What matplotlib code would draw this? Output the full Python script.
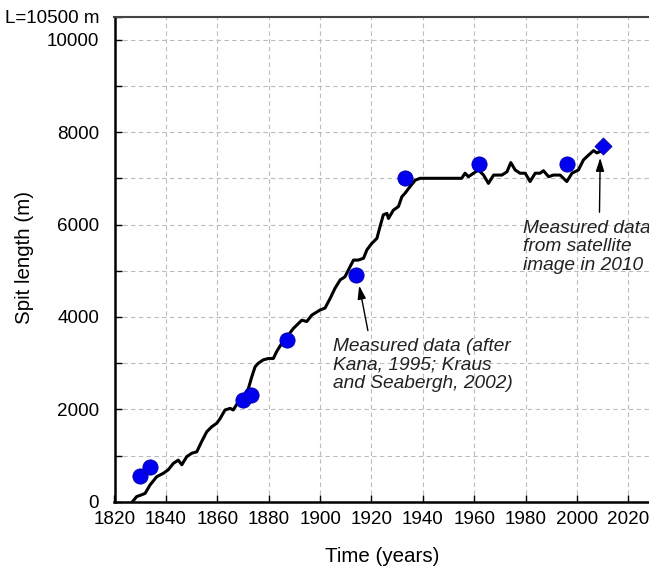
import matplotlib
matplotlib.use("Agg")
import matplotlib.pyplot as plt

plt.rcParams['font.family'] = ['Liberation Sans', 'DejaVu Sans']

# Simulated spit length (black line)
sim_years = [1827, 1828.6, 1830.6, 1831.9, 1833.8, 1836.4, 1839, 1840.9, 1842.9, 1844.8,
             1846.2, 1848.1, 1850.1, 1852, 1853.9, 1855.9, 1857.8, 1859.8, 1861.1, 1863,
             1865, 1866.2, 1868.2, 1870.1, 1872.1, 1873.4, 1874.7, 1876, 1877.9, 1879.9,
             1881.8, 1883.1, 1885.1, 1887, 1889.6, 1892.9, 1894.8, 1896.8, 1900, 1901.9,
             1903.9, 1905.8, 1907.8, 1909.7, 1911.7, 1913, 1914.9, 1916.9, 1918.2, 1920.1,
             1922.1, 1923.3, 1924.6, 1926, 1926.6, 1928.5, 1930.5, 1931.8, 1933.1, 1935,
             1937, 1938.9, 1955.1, 1956.4, 1957.7, 1959.7, 1961.6, 1963.6, 1965.5, 1967.5,
             1970.7, 1972.7, 1974.2, 1975.9, 1977.8, 1979.8, 1981.7, 1983.7, 1985.6, 1986.9,
             1988.9, 1990.8, 1993.4, 1996, 1998, 2000.5, 2002.5, 2004.4, 2006.4, 2007.7, 2009]
sim_length = [0, 110, 150, 180, 360, 540, 615, 690, 830, 900,
              800, 975, 1050, 1080, 1300, 1515, 1620, 1700, 1800, 1985,
              2020, 1985, 2165, 2270, 2450, 2700, 2920, 3000, 3070, 3100,
              3100, 3250, 3430, 3560, 3750, 3930, 3900, 4040, 4150, 4190,
              4400, 4620, 4800, 4870, 5090, 5230, 5230, 5270, 5450, 5590,
              5700, 5950, 6210, 6240, 6130, 6310, 6390, 6600, 6680, 6820,
              6960, 7000, 7000, 7110, 7035, 7110, 7180, 7070, 6890, 7070,
              7070, 7140, 7340, 7180, 7110, 7110, 6930, 7110, 7110, 7165,
              7035, 7070, 7070, 6930, 7110, 7180, 7400, 7500, 7600, 7550, 7580]

# Measured data (circles)
meas_years = [1830, 1834, 1870, 1873, 1887, 1914, 1933, 1962, 1996]
meas_length = [560, 750, 2200, 2300, 3500, 4900, 7000, 7300, 7300]

# Satellite data (diamond)
sat_years = [2010]
sat_length = [7700]

x_ticks = [1820, 1840, 1860, 1880, 1900, 1920, 1940, 1960, 1980, 2000, 2020]
y_ticks = [0, 1000, 2000, 3000, 4000, 5000, 6000, 7000, 8000, 9000, 10000, 10500]
y_labels = ['0', '', '2000', '', '4000', '', '6000', '', '8000', '', '10000', 'L=10500 m']

W, H = 649, 569
fig = plt.figure(figsize=(W / 100, H / 100), dpi=100)
x0, x1 = 114.5, 654.2
y_top, y_bot = 16.6, 501.7
ax = fig.add_axes([x0 / W, 1 - y_bot / H, (x1 - x0) / W, (y_bot - y_top) / H])

ax.set_xlim(1820, 2030)
ax.set_ylim(0, 10500)

ax.plot(sim_years, sim_length, color='black', lw=2.2, zorder=3, solid_joinstyle='round')
ax.scatter(meas_years, meas_length, s=120, color='#0000ee', edgecolors='#0000aa',
           linewidths=0.6, zorder=4)
ax.scatter(sat_years, sat_length, s=75, marker='D', color='#0000ee', edgecolors='#0000aa',
           linewidths=0.6, zorder=4)

ax.set_xticks(x_ticks)
ax.set_xticklabels([str(v) for v in x_ticks])
ax.set_yticks(y_ticks)
ax.set_yticklabels(y_labels)
ax.tick_params(axis='both', direction='in', length=5, width=1.0, labelsize=13.6, color='black')
ax.tick_params(axis='x', pad=7)
ax.tick_params(axis='y', pad=11)

ax.grid(True, linestyle=(0, (4, 3)), color='#bcbcbc', lw=0.8, zorder=0)

for s in ['left', 'bottom']:
    ax.spines[s].set_linewidth(1.8)
    ax.spines[s].set_color('black')
ax.spines['top'].set_linewidth(1.5)
ax.spines['top'].set_color('#444444')
ax.spines['right'].set_visible(False)

ax.set_xlabel('Time (years)', fontsize=14.8)
ax.set_ylabel('Spit length (m)', fontsize=14.8)
ax.xaxis.label.set_va('center')
ax.yaxis.label.set_va('center')
ax.xaxis.set_label_coords((382 - x0) / (x1 - x0), (y_bot - 556.7) / (y_bot - y_top))
ax.yaxis.set_label_coords((25 - x0) / (x1 - x0), (y_bot - 258) / (y_bot - y_top))

ax.annotate('', xy=(1915.0, 4736), xytext=(1918.8, 3645),
            arrowprops=dict(arrowstyle='-|>,head_length=0.8,head_width=0.25',
                            color='black', lw=1.0), zorder=5)
ax.text(1905.0, 3543, 'Measured data (after\nKana, 1995; Kraus\nand Seabergh, 2002)',
        fontsize=13.8, style='italic', ha='left', va='top', color='#222222',
        linespacing=1.1, zorder=5)

ax.annotate('', xy=(2009.0, 7504), xytext=(2008.7, 6205),
            arrowprops=dict(arrowstyle='-|>,head_length=0.8,head_width=0.25',
                            color='black', lw=1.0), zorder=5)
ax.text(1978.9, 6097, 'Measured data\nfrom satellite\nimage in 2010',
        fontsize=13.8, style='italic', ha='left', va='top', color='#222222',
        linespacing=1.1, zorder=5)

fig.savefig('out.png', dpi=100)
